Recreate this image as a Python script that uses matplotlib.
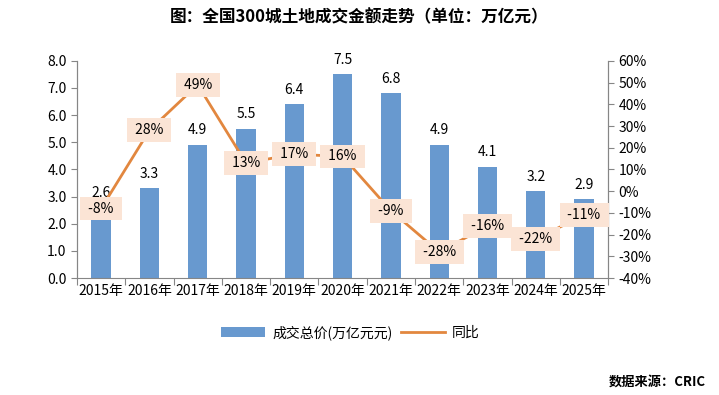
import numpy as np
import matplotlib.pyplot as plt
from matplotlib.ticker import FuncFormatter

plt.rcParams['font.family'] = ['Noto Sans CJK SC', 'DejaVu Sans']

# data
years = ['2015年', '2016年', '2017年', '2018年', '2019年', '2020年',
         '2021年', '2022年', '2023年', '2024年', '2025年']
total = [2.6, 3.3, 4.9, 5.5, 6.4, 7.5, 6.8, 4.9, 4.1, 3.2, 2.9]
yoy = [-8, 28, 49, 13, 17, 16, -9, -28, -16, -22, -11]

bar_color = '#6899CF'
line_color = '#E2873F'
box_color = '#FBE4D5'
axis_color = '#868686'

fig = plt.figure(figsize=(7.19, 3.95), dpi=100)
ax = fig.add_axes([0.107, 0.296, 0.739, 0.55])
ax2 = ax.twinx()

x = np.arange(len(years))
bars = ax.bar(x, total, width=0.4, color=bar_color, zorder=2, label='成交总价(万亿元元)')
line, = ax2.plot(x, yoy, color=line_color, lw=2, zorder=3, label='同比')

ax.set_xlim(-0.5, len(years) - 0.5)
ax.set_ylim(0, 8)
ax.set_yticks(np.arange(0, 8.1, 1))
ax.yaxis.set_major_formatter(FuncFormatter(lambda v, p: f'{v:.1f}'))
ax2.set_ylim(-40, 60)
ax2.set_yticks(np.arange(-40, 61, 10))
ax2.yaxis.set_major_formatter(FuncFormatter(lambda v, p: f'{v:.0f}%'))

# x ticks at category boundaries, labels at centers
ax.set_xticks(np.arange(-0.5, len(years), 1))
ax.set_xticklabels([])
ax.set_xticks(x, minor=True)
ax.set_xticklabels(years, minor=True)
ax.tick_params(axis='x', which='minor', length=0, labelsize=10, pad=4)
ax.tick_params(axis='x', which='major', length=5, color=axis_color)
ax.tick_params(axis='y', length=4, color=axis_color, labelsize=10)
ax2.tick_params(axis='y', length=4, color=axis_color, labelsize=10)

for a in (ax, ax2):
    a.spines['top'].set_visible(False)
    for s in ('left', 'right', 'bottom'):
        a.spines[s].set_color(axis_color)
ax2.spines['bottom'].set_visible(False)

# bar value labels
for xi, v in zip(x, total):
    ax.text(xi, v + 0.28, f'{v:.1f}', ha='center', va='bottom', fontsize=10, zorder=4)

# yoy labels in boxes
ax2.set_zorder(ax.get_zorder() + 1)
ax2.patch.set_visible(False)
for xi, v in zip(x, yoy):
    ax2.text(xi, v, f' {v}% ', ha='center', va='center', fontsize=10, zorder=5,
             bbox=dict(boxstyle='square,pad=0.35', fc=box_color, ec='none'))

fig.text(0.5, 0.955, '图：全国300城土地成交金额走势（单位：万亿元）', ha='center', va='center',
         fontsize=12, fontweight='bold')

fig.legend(handles=[bars, line], loc='center', bbox_to_anchor=(0.487, 0.158), ncol=2,
           frameon=False, fontsize=10, handlelength=3.2, columnspacing=0.6, handletextpad=0.5)

fig.text(0.982, 0.033, '数据来源：CRIC', ha='right', va='center', fontsize=9.5, fontweight='bold')

fig.savefig('out.png', dpi=100)
